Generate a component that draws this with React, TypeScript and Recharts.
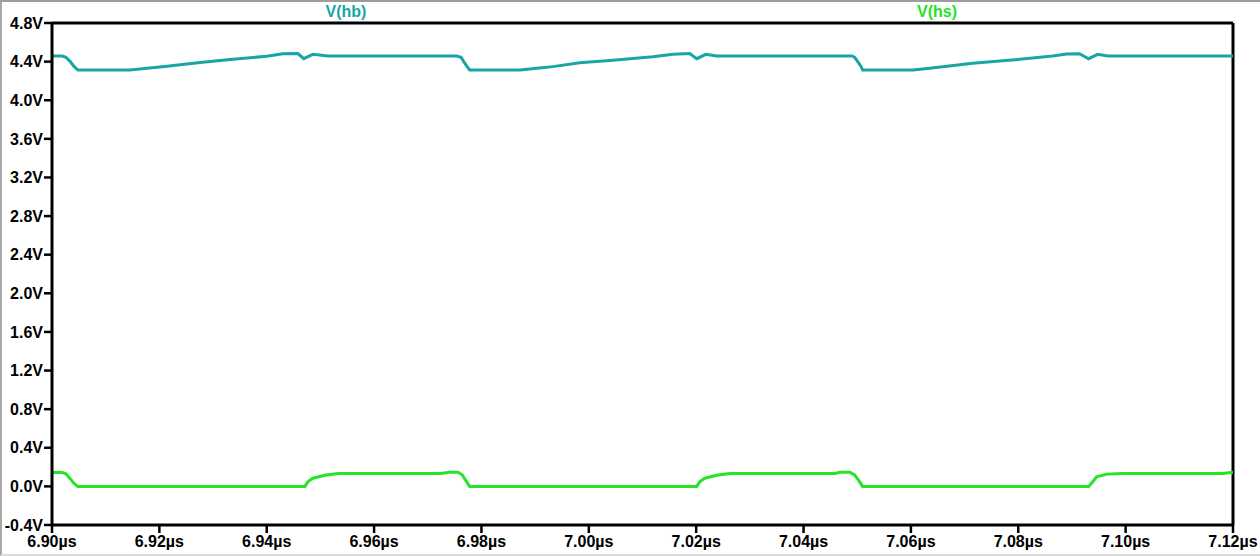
import React from "react";
import { LineChart, Line, XAxis, YAxis, ReferenceLine } from "recharts";

// V(hb) trace: time (µs) and voltage (V)
const hbTime = [
  6.9, 6.9019, 6.9026, 6.9034, 6.9041, 6.9048, 6.9145, 6.9214, 6.9276, 6.9337, 6.94, 6.943, 6.9458, 6.9469,
  6.9486, 6.9514, 6.9754, 6.9762, 6.9767, 6.9773, 6.9778, 6.9872, 6.9903, 6.9933, 6.9983, 7.0045, 7.0119,
  7.0157, 7.0188, 7.0201, 7.0218, 7.0238, 7.049, 7.0495, 7.0501, 7.0507, 7.051, 7.0604, 7.0635, 7.0715,
  7.0803, 7.0864, 7.089, 7.0914, 7.0931, 7.0948, 7.0967, 7.12,
];
const hbVolt = [
  4.458, 4.458, 4.445, 4.4, 4.35, 4.313, 4.313, 4.352, 4.39, 4.424, 4.456, 4.482, 4.484, 4.43,
  4.476, 4.458, 4.458, 4.445, 4.4, 4.35, 4.313, 4.313, 4.331, 4.348, 4.389, 4.414, 4.451,
  4.476, 4.484, 4.43, 4.476, 4.458, 4.458, 4.445, 4.4, 4.35, 4.313, 4.313, 4.331, 4.382,
  4.424, 4.458, 4.479, 4.482, 4.43, 4.476, 4.458, 4.458,
];

// V(hs) trace: time (µs) and voltage (V)
const hsTime = [
  6.9, 6.9019, 6.9026, 6.9034, 6.9041, 6.9048, 6.9471, 6.9477, 6.9486, 6.9508, 6.9533, 6.9724, 6.9741,
  6.9756, 6.9764, 6.9771, 6.9778, 7.0201, 7.0207, 7.0216, 7.0238, 7.0263, 7.0458, 7.0468, 7.0486, 7.0495,
  7.0503, 7.051, 7.0931, 7.0939, 7.0946, 7.0965, 7.0995, 7.1181, 7.12,
];
const hsVolt = [
  0.144, 0.144, 0.13, 0.08, 0.03, 0.0, 0.0, 0.05, 0.085, 0.116, 0.134, 0.134, 0.146,
  0.146, 0.12, 0.06, 0.0, 0.0, 0.05, 0.085, 0.116, 0.134, 0.134, 0.146, 0.146, 0.12,
  0.06, 0.0, 0.0, 0.05, 0.1, 0.127, 0.134, 0.134, 0.146,
];

const xTicks = [6.9, 6.92, 6.94, 6.96, 6.98, 7.0, 7.02, 7.04, 7.06, 7.08, 7.1, 7.12];
const yTicks = [-0.4, 0, 0.4, 0.8, 1.2, 1.6, 2.0, 2.4, 2.8, 3.2, 3.6, 4.0, 4.4, 4.8];

const seriesNames = ["V(hb)", "V(hs)"];
const seriesColors = ["#17A6A6", "#24E424"];

const hbData = hbTime.map((t, i) => ({ t, v: hbVolt[i] }));
const hsData = hsTime.map((t, i) => ({ t, v: hsVolt[i] }));

const FONT = "'Liberation Sans', Arial, sans-serif";

export default function App() {
  const tickStyle = { fill: "#000", fontSize: 16, fontWeight: 700, fontFamily: FONT };
  return (
    <div
      style={{
        position: "absolute",
        left: 0,
        top: 0,
        width: 1260,
        height: 556,
        background: "#fff",
        boxSizing: "border-box",
        borderTop: "2px solid #9c9c9c",
        borderLeft: "2px solid #a8a8a8",
        borderBottom: "2px solid #dcdcdc",
        overflow: "hidden",
      }}
    >
      <div style={{ position: "absolute", left: -2, top: -2 }}>
        <LineChart width={1260} height={556} margin={{ top: 23, right: 27, bottom: 0, left: 0 }}>
          <XAxis
            type="number"
            dataKey="t"
            domain={[6.9, 7.12]}
            ticks={xTicks}
            interval={0}
            allowDataOverflow
            height={31}
            tickSize={8}
            tickMargin={3}
            tickFormatter={(v: number) => v.toFixed(2) + "µs"}
            axisLine={{ stroke: "#000", strokeWidth: 3 }}
            tickLine={{ stroke: "#000", strokeWidth: 2.5 }}
            tick={tickStyle}
          />
          <YAxis
            type="number"
            domain={[-0.4, 4.8]}
            ticks={yTicks}
            interval={0}
            allowDataOverflow
            width={52}
            tickSize={8}
            tickMargin={1}
            tickFormatter={(v: number) => v.toFixed(1) + "V"}
            axisLine={{ stroke: "#000", strokeWidth: 3 }}
            tickLine={{ stroke: "#000", strokeWidth: 2.5 }}
            tick={tickStyle}
          />
          <ReferenceLine y={4.8} stroke="#000" strokeWidth={3} />
          <ReferenceLine x={7.12} stroke="#000" strokeWidth={3} />
          <Line
            data={hbData}
            dataKey="v"
            type="linear"
            stroke={seriesColors[0]}
            strokeWidth={3}
            dot={false}
            isAnimationActive={false}
          />
          <Line
            data={hsData}
            dataKey="v"
            type="linear"
            stroke={seriesColors[1]}
            strokeWidth={3}
            dot={false}
            isAnimationActive={false}
          />
        </LineChart>
        <div
          style={{
            position: "absolute",
            left: 346,
            top: 3,
            transform: "translateX(-50%)",
            color: seriesColors[0],
            font: `700 16px ${FONT}`,
            lineHeight: "18px",
            whiteSpace: "nowrap",
          }}
        >
          {seriesNames[0]}
        </div>
        <div
          style={{
            position: "absolute",
            left: 937,
            top: 3,
            transform: "translateX(-50%)",
            color: seriesColors[1],
            font: `700 16px ${FONT}`,
            lineHeight: "18px",
            whiteSpace: "nowrap",
          }}
        >
          {seriesNames[1]}
        </div>
      </div>
    </div>
  );
}
